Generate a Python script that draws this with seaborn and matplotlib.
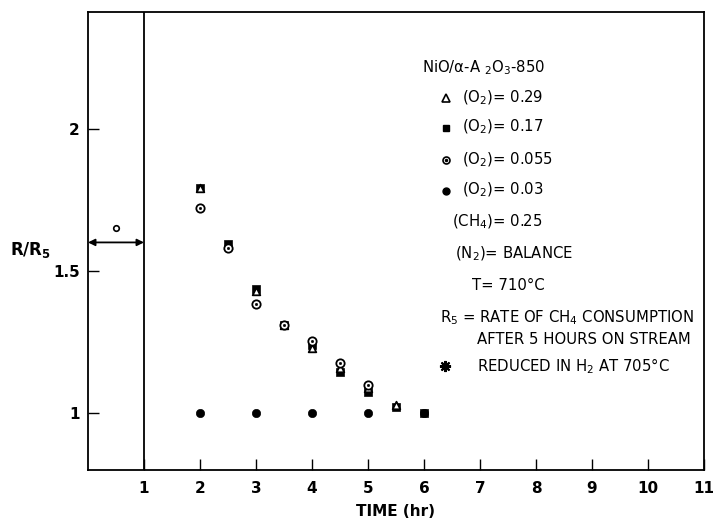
import matplotlib
matplotlib.use("Agg")
import matplotlib.pyplot as plt
import seaborn as sns
import pandas as pd

# ---- data ----
t_tri = [2, 2.5, 3, 3.5, 4, 4.5, 5, 5.5]
r_tri = [1.79, 1.59, 1.43, 1.31, 1.23, 1.16, 1.09, 1.03]
t_sq = [2, 2.5, 3, 3.5, 4, 4.5, 5, 5.5, 6]
r_sq = [1.79, 1.595, 1.435, 1.31, 1.24, 1.145, 1.075, 1.02, 1.0]
t_oc = [2, 2.5, 3, 3.5, 4, 4.5, 5]
r_oc = [1.72, 1.58, 1.385, 1.31, 1.255, 1.175, 1.10]
t_fc = [2, 3, 4, 5, 6]
r_fc = [1.0, 1.0, 1.0, 1.0, 1.0]
reduced_span = [0, 1]
reduced_level = 1.6
star_xy = (0.5, 1.65)
xticks = list(range(1, 12))
yticks = [1, 1.5, 2]
ytick_labels = ["1", "1.5", "2"]

sns.set_style("ticks")
plt.rcParams['font.family'] = ['DejaVu Sans']
plt.rcParams['mathtext.default'] = 'regular'
plt.rcParams['text.color'] = 'black'
plt.rcParams['axes.labelcolor'] = 'black'
plt.rcParams['xtick.color'] = 'black'
plt.rcParams['ytick.color'] = 'black'

fig = plt.figure(figsize=(7.14, 5.2), dpi=100)
ax = fig.add_axes([88/714, 1-470/520, (704-88)/714, (470-12)/520])

df_sq = pd.DataFrame({"t": t_sq, "r": r_sq})
df_tri = pd.DataFrame({"t": t_tri, "r": r_tri})
df_oc = pd.DataFrame({"t": t_oc, "r": r_oc})
df_fc = pd.DataFrame({"t": t_fc, "r": r_fc})

sns.scatterplot(data=df_sq, x="t", y="r", marker="s", s=36, color="black", edgecolor="black", ax=ax, zorder=3)
sns.scatterplot(data=df_tri, x="t", y="r", marker="^", s=30, color="white", edgecolor="black", linewidth=1.3, ax=ax, zorder=4)
sns.scatterplot(data=df_oc, x="t", y="r", marker="o", s=36, color="white", edgecolor="black", linewidth=1.3, ax=ax, zorder=5)
sns.scatterplot(data=df_oc, x="t", y="r", marker="o", s=4, color="black", edgecolor="black", ax=ax, zorder=6)
sns.scatterplot(data=df_fc, x="t", y="r", marker="o", s=36, color="black", edgecolor="black", ax=ax, zorder=3)

# reduced region markers
ax.axvline(1, color="black", lw=1.3)
ax.annotate("", xy=(reduced_span[0], reduced_level), xytext=(reduced_span[1], reduced_level),
            arrowprops=dict(arrowstyle="<|-|>", color="black", lw=1.3, mutation_scale=10,
                            shrinkA=0, shrinkB=0))
ax.plot([star_xy[0]], [star_xy[1]], marker="o", ms=4, mfc="white", mec="black", mew=1.2, ls="none")

ax.set_xlim(0, 11)
ax.set_ylim(0.8, 2.41)
ax.set_xticks(xticks)
ax.set_yticks(yticks)
ax.set_yticklabels(ytick_labels)
ax.tick_params(direction="in", length=8, width=1, colors="black", labelsize=11)
for lab in ax.get_xticklabels() + ax.get_yticklabels():
    lab.set_fontweight("bold")
ax.tick_params(axis="x", pad=8)
ax.tick_params(axis="y", pad=6)
for sp in ax.spines.values():
    sp.set_visible(True)
    sp.set_color("black")
    sp.set_linewidth(1.3)
ax.set_xlabel("TIME (hr)", fontsize=11, fontweight="bold", labelpad=6)
ax.set_ylabel("")
fig.text(10/714, 1-250/520, "R/R$_5$", fontsize=12, fontweight="bold", va="center", ha="left")

def ftxt(x, y, s, **kw):
    fig.text(x/714, 1-y/520, s, fontsize=10.7, va="center", ha="left", **kw)

ftxt(422, 68, "NiO/α-A $_2$O$_3$-850")
ftxt(462, 98, "(O$_2$)= 0.29")
ftxt(462, 127, "(O$_2$)= 0.17")
ftxt(462, 160, "(O$_2$)= 0.055")
ftxt(462, 190, "(O$_2$)= 0.03")
ftxt(452, 222, "(CH$_4$)= 0.25")
ftxt(455, 254, "(N$_2$)= BALANCE")
ftxt(472, 285, "T= 710°C")
ftxt(440, 318, "R$_5$ = RATE OF CH$_4$ CONSUMPTION")
ftxt(477, 339, "AFTER 5 HOURS ON STREAM")
ftxt(477, 366, "REDUCED IN H$_2$ AT 705°C")

# legend symbols
def fmark(x, y, **kw):
    fig.add_artist(plt.Line2D([x/714], [1-y/520], ls="none", **kw))

fmark(446, 98, marker="^", ms=6, mfc="white", mec="black", mew=1.2)
fmark(446, 128, marker="s", ms=5, mfc="black", mec="black")
fmark(446, 160, marker="o", ms=5, mfc="white", mec="black", mew=1.2)
fmark(446, 160, marker="o", ms=1.5, mfc="black", mec="black")
fmark(446, 191, marker="o", ms=5, mfc="black", mec="black")
fmark(445, 366, marker=(8, 2, 0), ms=8, mfc="black", mec="black", mew=1.5)

fig.savefig("out.png", dpi=100)
